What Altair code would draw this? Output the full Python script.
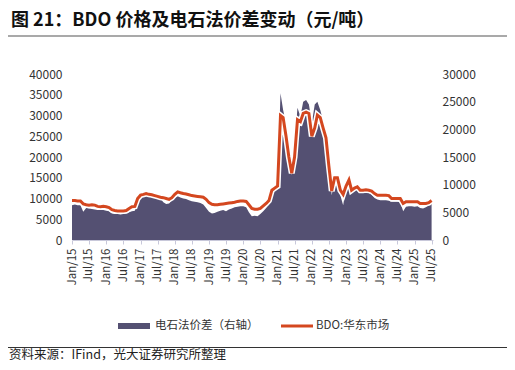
import altair as alt
import pandas as pd

FONT = "Noto Sans CJK SC"
AREA_COLOR = "#545072"
LINE_COLOR = "#D4471F"

TITLE = "图 21：BDO 价格及电石法价差变动（元/吨）"
SOURCE = "资料来源：IFind，光大证券研究所整理"
LEGEND_AREA = "电石法价差（右轴）"
LEGEND_LINE = "BDO:华东市场"

# BDO: East China market price (left axis), monthly Jan 2015 .. Jul 2025
bdo = [
    9500, 9500, 9400, 9400, 8700, 8500, 8400, 8500, 8400, 8100, 8000, 8100,       # 2015
    8000, 7800, 7300, 7100, 7000, 7000, 7000, 7100, 7600, 8000, 8100, 10000,      # 2016
    10800, 11000, 11200, 11000, 10900, 10700, 10500, 10300, 10200, 10000, 9800, 10200,  # 2017
    11000, 11600, 11400, 11200, 11100, 10900, 10700, 10600, 10500, 10400, 10300, 9800,  # 2018
    9000, 8600, 8500, 8500, 8600, 8700, 8800, 8900, 9000, 9100, 9300, 9400,       # 2019
    9400, 9300, 8500, 7600, 7400, 7400, 7600, 8200, 8800, 9500, 12000, 12500,     # 2020
    13000, 30000, 29500, 25000, 20000, 16100, 20000, 29000, 28500, 30500, 30800, 30500,  # 2021
    25000, 27000, 30100, 29500, 27000, 24600, 18000, 11800, 15000, 15000, 12000, 11000,  # 2022
    13000, 14500, 12000, 12500, 12800, 12000, 12000, 12100, 12000, 11800, 11200, 10800,  # 2023
    10800, 10800, 10800, 10700, 10000, 10000, 10000, 10000, 8800, 9200, 9200, 9200,  # 2024
    9200, 9200, 8800, 8800, 8800, 9000, 9500,                                     # 2025
]

# Calcium carbide method spread (right axis)
spread = [
    6300, 6400, 6300, 6300, 5100, 5800, 5700, 5600, 5500, 5400, 5400, 5400,       # 2015
    5300, 5200, 4800, 4700, 4700, 4600, 4700, 4800, 5000, 5200, 5300, 7200,       # 2016
    7700, 7800, 8000, 7900, 7900, 7800, 7700, 7500, 6800, 6500, 6600, 7200,       # 2017
    7600, 7900, 7700, 7500, 7400, 7200, 7000, 6900, 6800, 6700, 6400, 5800,       # 2018
    5100, 4800, 4900, 5100, 5300, 5400, 5200, 5500, 5700, 5900, 6000, 6100,       # 2019
    6100, 5900, 5000, 4300, 4400, 4300, 4700, 5200, 5800, 6500, 8500, 9000,       # 2020
    10000, 26500, 23500, 21000, 16000, 11700, 17000, 23900, 22300, 25000, 25300, 24500,  # 2021
    21100, 24500, 25000, 23500, 21500, 19300, 13900, 8100, 10800, 10000, 8100, 6300,  # 2022
    9500, 10800, 8500, 9600, 8900, 8700, 8800, 8700, 8500, 8200, 7600, 7300,      # 2023
    7200, 7200, 7200, 7100, 6900, 6900, 6900, 6800, 5200, 6000, 6100, 6100,       # 2024
    6000, 6100, 5800, 5700, 5900, 6300, 6800,                                     # 2025
]

months = pd.date_range("2015-01-01", periods=len(bdo), freq="MS").strftime("%Y/%m/%d").tolist()

left_ticks = [0, 5000, 10000, 15000, 20000, 25000, 30000, 35000, 40000]
right_ticks = [0, 5000, 10000, 15000, 20000, 25000, 30000]
x_ticks = [alt.DateTime(year=y, month=m, date=1) for y in range(2015, 2026) for m in (1, 7)]

df = pd.DataFrame({"date": months, "bdo": bdo, "spread": spread})

x_enc = alt.X(
    "date:T",
    scale=alt.Scale(domain=[alt.DateTime(year=2015, month=1, date=1),
                            alt.DateTime(year=2025, month=7, date=16)]),
    axis=alt.Axis(values=x_ticks, format="%b/%y", labelAngle=-90, title=None,
                  grid=False, domainColor="#C8C8DA", tickColor="#C8C8DA",
                  tickSize=4, labelPadding=4, labelFontSize=11.5,
                  labelColor="#333333", labelFont=FONT),
)

area = alt.Chart(df).mark_area(color=AREA_COLOR, opacity=1).encode(
    x=x_enc,
    y=alt.Y("spread:Q", scale=alt.Scale(domain=[0, 30000], nice=False),
            axis=alt.Axis(orient="right", values=right_ticks, format="d", title=None,
                          domain=False, ticks=False, grid=False, labelPadding=9,
                          labelFontSize=12, labelColor="#333333", labelFont=FONT)),
)

halo = alt.Chart(df).mark_line(color="white", strokeWidth=6).encode(
    x=x_enc,
    y=alt.Y("bdo:Q", scale=alt.Scale(domain=[0, 40000], nice=False), axis=None),
)

line = alt.Chart(df).mark_line(color=LINE_COLOR, strokeWidth=3).encode(
    x=x_enc,
    y=alt.Y("bdo:Q", scale=alt.Scale(domain=[0, 40000], nice=False),
            axis=alt.Axis(orient="left", values=left_ticks, format="d", title=None,
                          domain=False, ticks=False, grid=False, labelPadding=10,
                          labelFontSize=12, labelColor="#333333", labelFont=FONT)),
)

one = pd.DataFrame({"t": [0]})

def text_layer(txt, x, y, size, weight="normal", color="#222222"):
    return alt.Chart(pd.DataFrame({"t": [txt]})).mark_text(
        align="left", baseline="middle", fontSize=size, fontWeight=weight,
        font=FONT, color=color,
    ).encode(x=alt.value(x), y=alt.value(y), text="t:N")

title = text_layer(TITLE, -61, -53, 18, "bold", "#111111")
source = text_layer(SOURCE, -63, 280.5, 12.5, "normal", "#222222")
leg_t1 = text_layer(LEGEND_AREA, 83, 252, 11.5, "normal", "#333333")
leg_t2 = text_layer(LEGEND_LINE, 244, 252, 11.5, "normal", "#333333")

top_rule = alt.Chart(one).mark_rule(color="#555555", strokeWidth=1.2).encode(
    x=alt.value(-64), x2=alt.value(438), y=alt.value(-38))
bottom_rule = alt.Chart(one).mark_rule(color="#333333", strokeWidth=1).encode(
    x=alt.value(-64), x2=alt.value(438), y=alt.value(273.5))
leg_rect = alt.Chart(one).mark_rect(color=AREA_COLOR).encode(
    x=alt.value(46), x2=alt.value(78), y=alt.value(249), y2=alt.value(255))
leg_line = alt.Chart(one).mark_rule(color=LINE_COLOR, strokeWidth=3).encode(
    x=alt.value(209), x2=alt.value(241), y=alt.value(252))

chart = alt.layer(
    area, halo, line, title, top_rule, bottom_rule, source,
    leg_rect, leg_t1, leg_line, leg_t2,
).resolve_scale(y="independent").properties(
    width=361, height=166,
    padding={"left": 64, "top": 66, "right": 74, "bottom": 122},
    autosize=alt.AutoSizeParams(type="none"),
).configure_view(stroke=None).configure_axis(grid=False)

chart.save("out.html", embed_options={"renderer": "svg", "actions": False})
